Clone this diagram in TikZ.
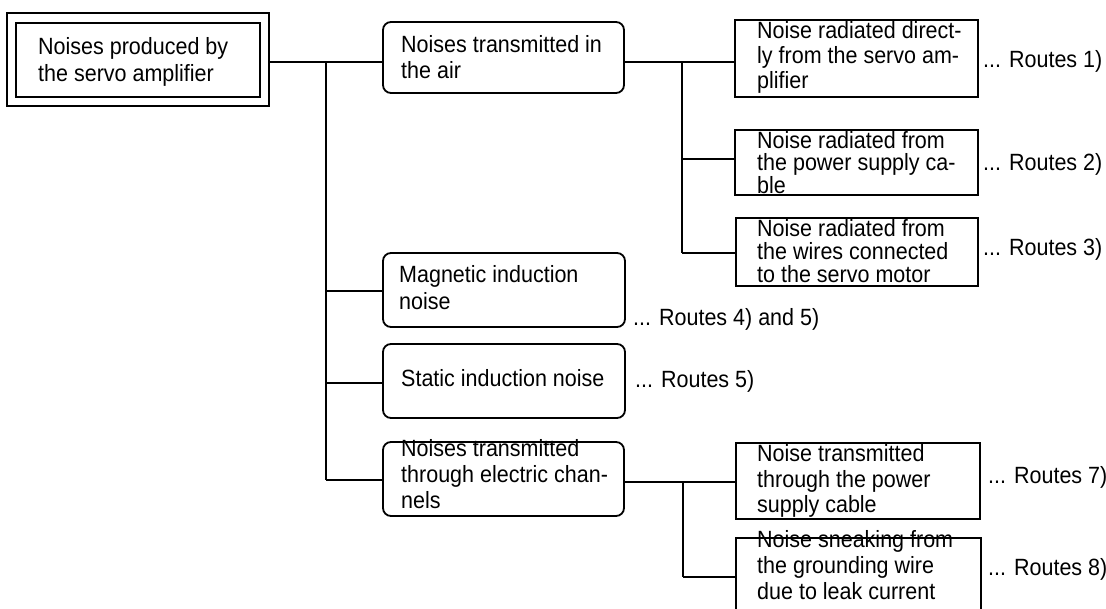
\documentclass[tikz,border=0pt]{standalone}
\usepackage{fontspec}
\setmainfont{Liberation Sans}[FakeStretch=0.915]
\begin{document}
\begin{tikzpicture}[x=1pt,y=-1pt,
  lin/.style={line width=1.8pt},
  sq/.style={draw, line width=1.8pt, inner sep=0pt},
  rnd/.style={sq, rounded corners=8pt},
  txt/.style={inner sep=0pt, align=left, anchor=west, font=\fontsize{23.5}{27}\selectfont},
  txtb/.style={txt, font=\fontsize{23.5}{#1}\selectfont},
]
\useasboundingbox (0,0) rectangle (1106,608);
\clip (0,0) rectangle (1106,608);

% root (double frame)
\node[sq, minimum width=262pt, minimum height=93pt] (root) at (138,59.5) {};
\node[sq, minimum width=244pt, minimum height=74pt] (rootin) at (138,60) {};
\node[txt] (roott) at (38,62.4) {Noises produced by\\the servo amplifier};

% middle column
\node[rnd, minimum width=241pt, minimum height=71pt] (A) at (503.5,57.5) {};
\node[txtb=26] (At) at (401,57.4) {Noises transmitted in\\the air};
\node[rnd, minimum width=242pt, minimum height=74pt] (B) at (504,290) {};
\node[txt] (Bt) at (399,287.9) {Magnetic induction\\noise};
\node[rnd, minimum width=242pt, minimum height=74pt] (C) at (504,381) {};
\node[txt] (Ct) at (401,378.4) {Static induction noise};
\node[rnd, minimum width=241pt, minimum height=74pt] (D) at (503.5,479) {};
\node[txtb=26] (Dt) at (401,474) {Noises transmitted\\through electric chan-\\nels};

% right column
\node[sq, minimum width=243pt, minimum height=77pt] (R1) at (856.5,58.5) {};
\node[txtb=25] (R1t) at (757,57) {Noise radiated direct-\\ly from the servo am-\\plifier};
\node[sq, minimum width=243pt, minimum height=65pt] (R2) at (856.5,162.5) {};
\node[txtb=21.5] (R2t) at (757,162.5) {Noise radiated from\\the power supply ca-\\ble};
\node[sq, minimum width=242pt, minimum height=68pt] (R3) at (857,252) {};
\node[txtb=23] (R3t) at (757,251) {Noise radiated from\\the wires connected\\to the servo motor};
\node[sq, minimum width=244pt, minimum height=76pt] (E) at (858,481) {};
\node[txtb=25.5] (Et) at (757,481) {Noise transmitted\\through the power\\supply cable};
\node[sq, minimum width=245pt, minimum height=110pt] (F) at (858.5,593) {};
\node[txtb=26] (Ft) at (757,565) {Noise sneaking from\\the grounding wire\\due to leak current};

% route labels
\node[txt] (L1) at (983,61) {... Routes 1)};
\node[txt] (L2) at (983,164) {... Routes 2)};
\node[txt] (L3) at (983,249) {... Routes 3)};
\node[txt] (L4) at (633,319) {... Routes 4) and 5)};
\node[txt] (L5) at (635,381) {... Routes 5)};
\node[txt] (L7) at (988,477) {... Routes 7)};
\node[txt] (L8) at (988,569) {... Routes 8)};

% junction coordinates
\coordinate (j0) at (326,62);
\coordinate (j1) at (326,291);
\coordinate (j2) at (326,383);
\coordinate (j3) at (326,480);
\coordinate (k0) at (682,62);
\coordinate (k1) at (682,159);
\coordinate (k2) at (682,253);
\coordinate (m0) at (683,482);
\coordinate (m1) at (683,577);

% connectors
\draw[lin] (root.east |- j0) -- (A.west |- j0);
\draw[lin] (j0) -- (j3);
\draw[lin] (j1) -- (B.west |- j1);
\draw[lin] (j2) -- (C.west |- j2);
\draw[lin] (j3) -- (D.west |- j3);
\draw[lin] (A.east |- k0) -- (R1.west |- k0);
\draw[lin] (k0) -- (k2);
\draw[lin] (k1) -- (R2.west |- k1);
\draw[lin] (k2) -- (R3.west |- k2);
\draw[lin] (D.east |- m0) -- (E.west |- m0);
\draw[lin] (m0) -- (m1);
\draw[lin] (m1) -- (F.west |- m1);
\end{tikzpicture}
\end{document}
